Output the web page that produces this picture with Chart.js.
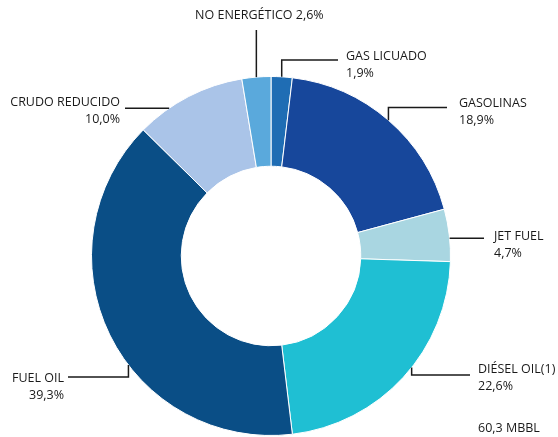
<!DOCTYPE html>
<html lang="es">
<head>
<meta charset="UTF-8">
<title>Producción de refinados</title>
<script src="https://cdn.jsdelivr.net/npm/chart.js"></script>
<style>
  html, body { margin: 0; padding: 0; background: #fff; }
  #contenedor { width: 558px; height: 437px; position: relative; }
</style>
</head>
<body>
<div id="contenedor"><canvas id="grafico"></canvas></div>
<script>
var productos = ['GAS LICUADO', 'GASOLINAS', 'JET FUEL', 'DIÉSEL OIL(1)', 'FUEL OIL', 'CRUDO REDUCIDO', 'NO ENERGÉTICO'];
var porcentajes = [1.9, 18.9, 4.7, 22.6, 39.3, 10.0, 2.6];
var colores = ['#1f6db4', '#17479b', '#a9d6e1', '#1fbfd3', '#0a4e86', '#aac4e8', '#5aa9dc'];
var total = '60,3 MBBL';

// posicion de cada etiqueta, relativa al centro del anillo
// frac = punto del arco donde sale la linea, lineaY null = linea horizontal desde el arco
var etiquetas = [
    {frac: 0.5,  lineaY: -196,   finX: 67,   textoX: 75,   textoY: -200, alinear: 'left'},
    {frac: 0.5,  lineaY: -148.5, finX: 176,  textoX: 188,  textoY: -153, alinear: 'left'},
    {frac: 0.56, lineaY: null,   finX: 213,  textoX: 223,  textoY: -20,  alinear: 'left'},
    {frac: 0.45, lineaY: 119,    finX: 199,  textoX: 207,  textoY: 113,  alinear: 'left'},
    {frac: 0.42, lineaY: 121,    finX: -203, textoX: -207, textoY: 122,  alinear: 'right'},
    {frac: 0.3,  lineaY: null,   finX: -146, textoX: -151, textoY: -154, alinear: 'right'},
    {frac: 0.5,  lineaY: -226,   finX: null, textoX: 0,    textoY: -241, alinear: 'center', unaLinea: true}
];

function fmt(v) {
    return v.toFixed(1).replace('.', ',') + '%';
}

var pluginEtiquetas = {
    id: 'etiquetas',
    afterDraw: function(chart) {
        var ctx = chart.ctx;
        var meta = chart.getDatasetMeta(0);
        ctx.save();
        ctx.strokeStyle = '#1a1a1a';
        ctx.lineWidth = 1.5;
        ctx.fillStyle = '#1a1a1a';
        ctx.font = '12.5px "Open Sans"';
        ctx.textBaseline = 'middle';
        var cx, cy;
        meta.data.forEach(function(arco, i) {
            var p = arco.getProps(['x', 'y', 'startAngle', 'endAngle', 'outerRadius'], true);
            cx = p.x; cy = p.y;
            var e = etiquetas[i];
            var a = p.startAngle + e.frac * (p.endAngle - p.startAngle);
            var ax = p.x + Math.cos(a) * p.outerRadius;
            var ay = p.y + Math.sin(a) * p.outerRadius;
            var ly = e.lineaY === null ? ay : p.y + e.lineaY;
            ctx.beginPath();
            ctx.moveTo(ax, ay);
            ctx.lineTo(ax, ly);
            if (e.finX !== null) ctx.lineTo(p.x + e.finX, ly);
            ctx.stroke();

            ctx.textAlign = e.alinear;
            if (e.unaLinea) {
                ctx.fillText(productos[i] + ' ' + fmt(porcentajes[i]), ax + 3, p.y + e.textoY);
            } else {
                ctx.fillText(productos[i], p.x + e.textoX, p.y + e.textoY);
                ctx.fillText(fmt(porcentajes[i]), p.x + e.textoX, p.y + e.textoY + 17);
            }
        });
        ctx.textAlign = 'left';
        ctx.fillText(total, cx + 207, cy + 172);
        ctx.restore();
    }
};

var grafico = document.getElementById('grafico').getContext('2d');
var miGrafico = new Chart(grafico, {
    type: 'doughnut',
    data: {
        labels: productos,
        datasets: [{
            data: porcentajes,
            backgroundColor: colores,
            borderColor: '#ffffff',
            borderWidth: 1
        }]
    },
    options: {
        responsive: true,
        maintainAspectRatio: false,
        animation: false,
        cutout: '50%',
        layout: {
            padding: {left: 91, right: 107, top: 75, bottom: 0}
        },
        plugins: {
            legend: {display: false},
            tooltip: {enabled: false}
        }
    },
    plugins: [pluginEtiquetas]
});
</script>
</body>
</html>
